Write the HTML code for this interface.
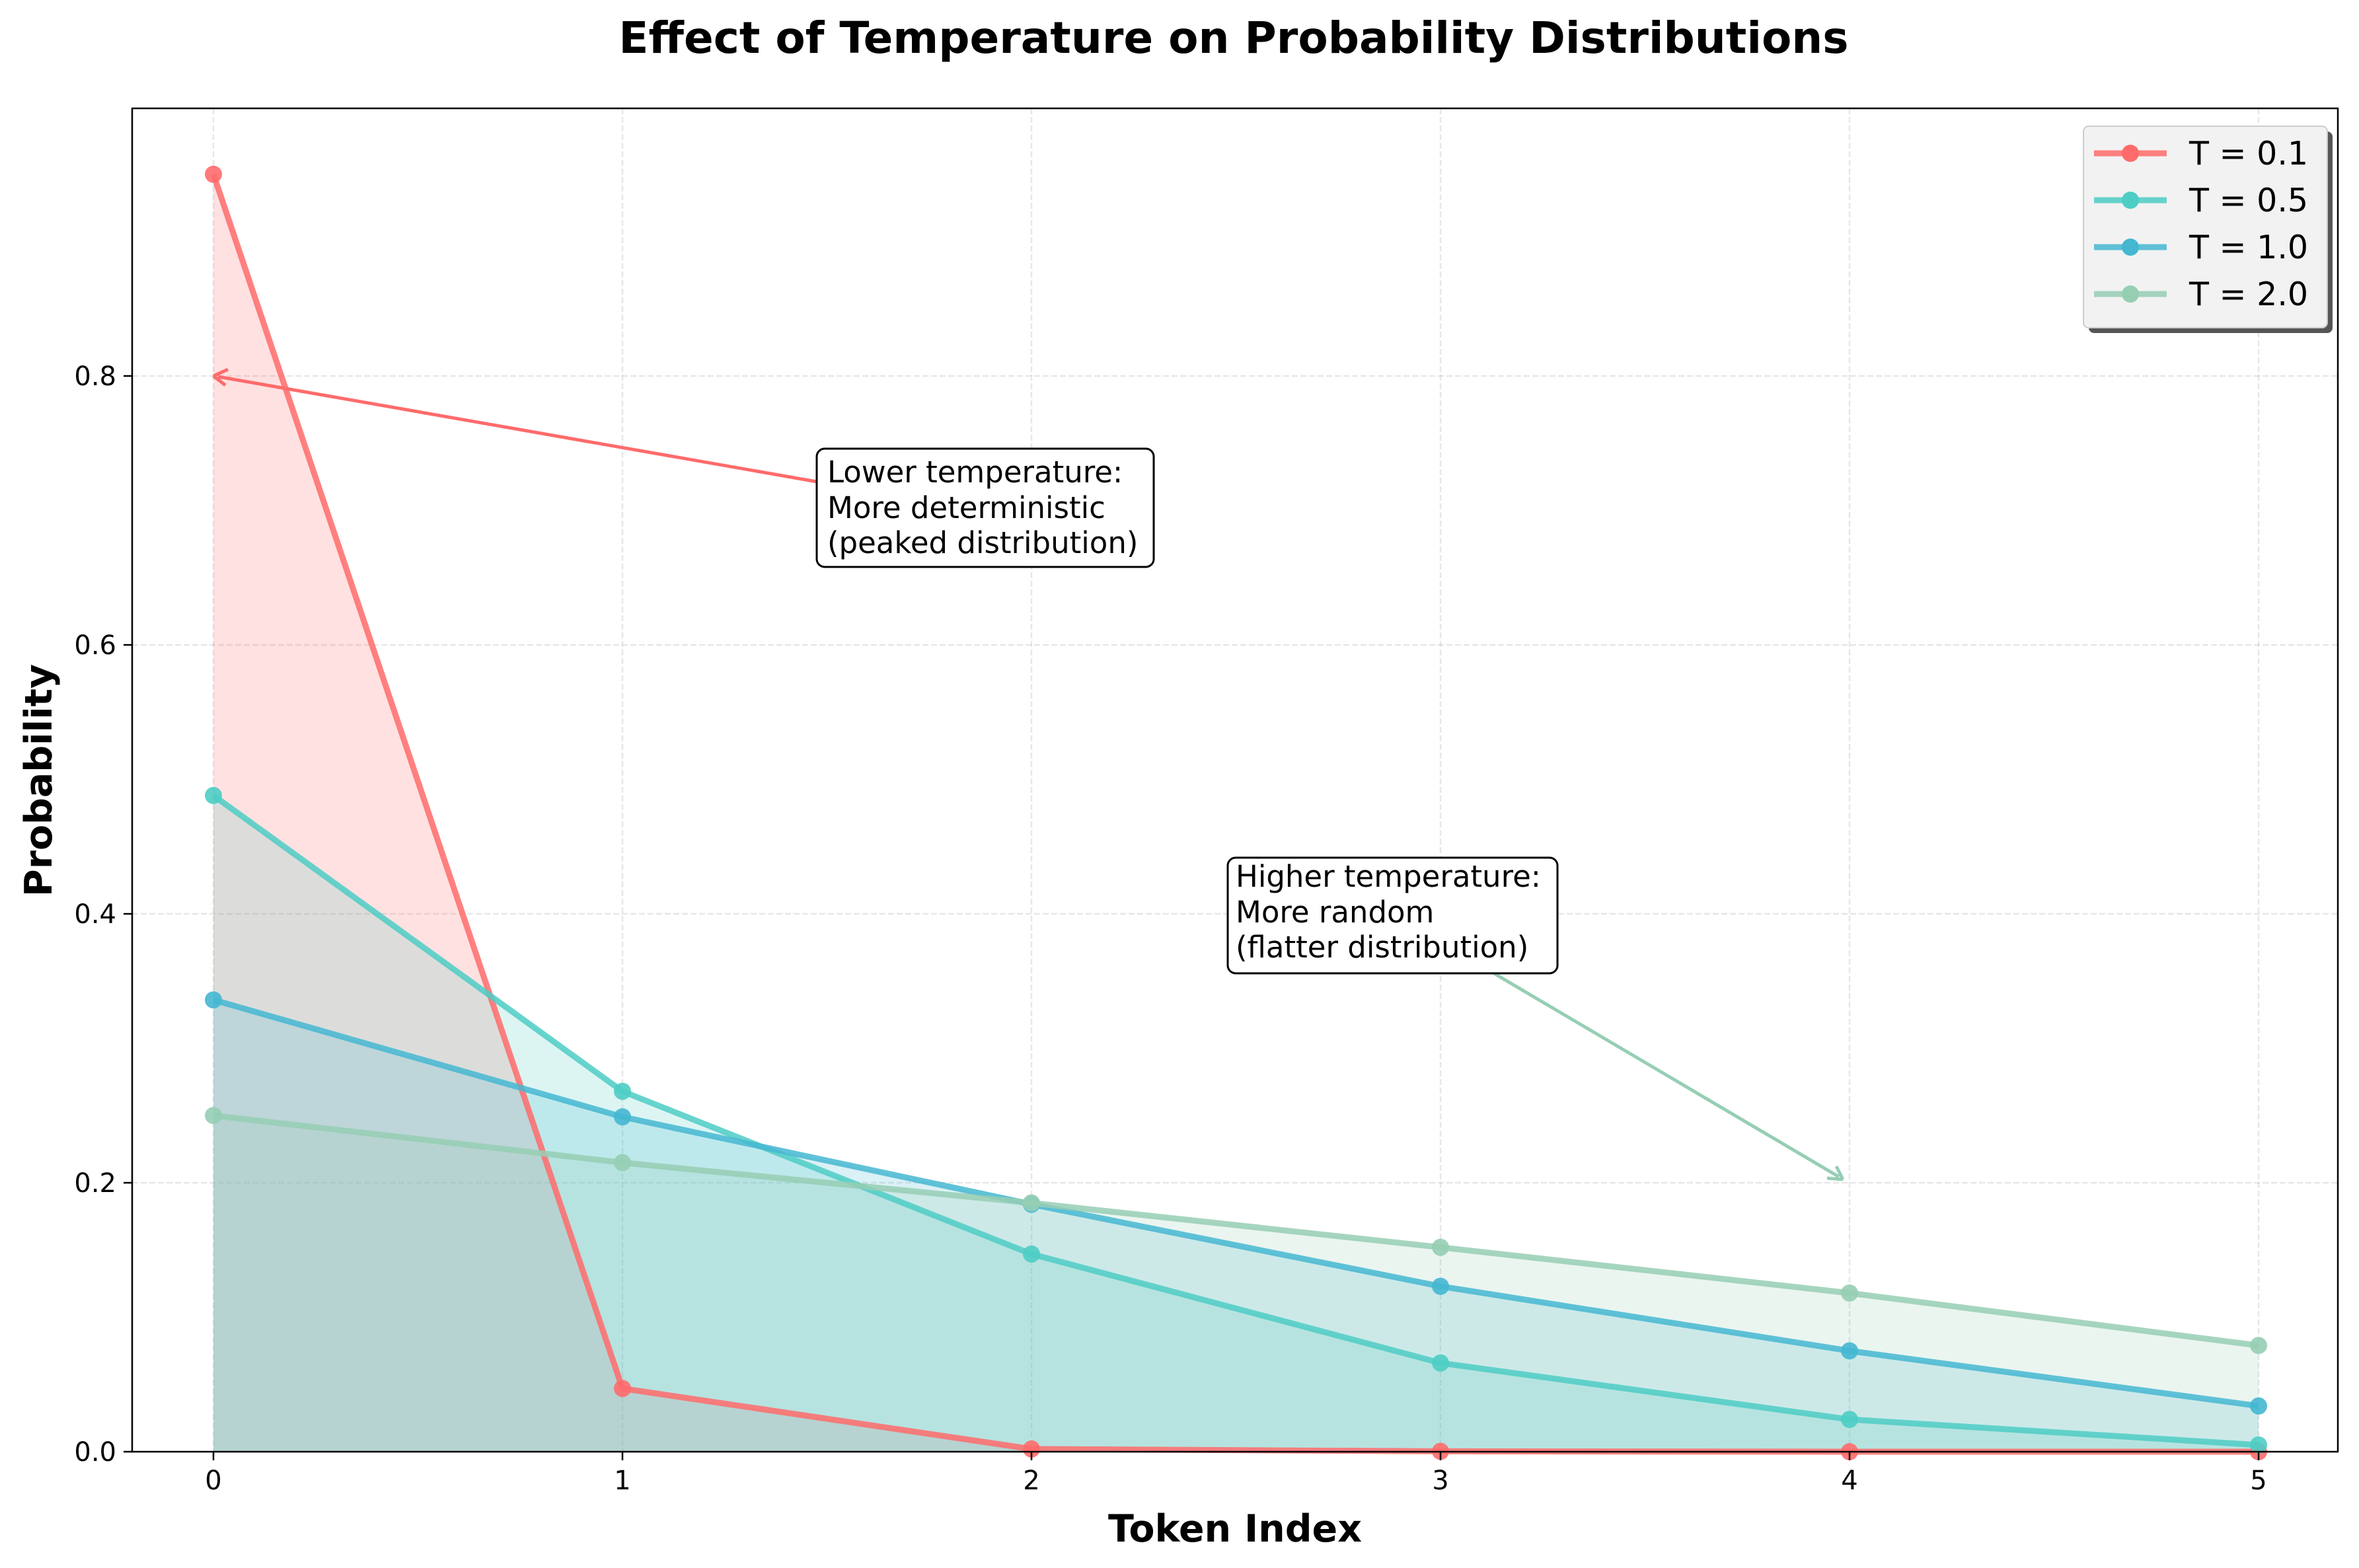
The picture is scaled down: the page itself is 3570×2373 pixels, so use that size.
<!DOCTYPE html>
<html><head><meta charset="utf-8">
<style>
html,body{margin:0;padding:0;background:#fff;}
svg{display:block;font-family:"DejaVu Sans","Liberation Sans",sans-serif;}
</style></head>
<body>
<svg id="chart" width="3570" height="2373" viewBox="0 0 3570 2373" xmlns="http://www.w3.org/2000/svg">
<rect width="3570" height="2373" fill="#fff"/>
<text x="1867" y="80" text-anchor="middle" font-size="66" font-weight="bold">Effect of Temperature on Probability Distributions</text>
<g id="grid"></g>
<g id="fills"></g>
<g id="lines"></g>
<g id="ticks"></g>
<rect x="200" y="164" width="3338" height="2033" fill="none" stroke="#000" stroke-width="2.5"/>
<text x="1869" y="2333" text-anchor="middle" font-size="57" font-weight="bold">Token Index</text>
<text transform="translate(78,1181) rotate(-90)" text-anchor="middle" font-size="57" font-weight="bold">Probability</text>
<g>
<line x1="1236" y1="729" x2="330" y2="570" stroke="#FF6B6B" stroke-width="5"/>
<path d="M323 569 l22 -10 M323 569 l18 14" stroke="#FF6B6B" stroke-width="5" fill="none"/>
<rect x="1236" y="679" width="510" height="179" rx="12" fill="#fff" stroke="#000" stroke-width="3"/>
<text x="1252" y="730" font-size="45">Lower temperature:</text>
<text x="1252" y="784" font-size="45">More deterministic</text>
<text x="1252" y="837" font-size="45">(peaked distribution)</text>
</g>
<g>
<line x1="2254" y1="1469" x2="2783" y2="1781" stroke="#96CEB4" stroke-width="5"/>
<path d="M2789 1785 l-24 -2 M2789 1785 l-10 -20" stroke="#96CEB4" stroke-width="5" fill="none"/>
<rect x="1858" y="1298" width="499" height="175" rx="12" fill="#fff" stroke="#000" stroke-width="3"/>
<text x="1870" y="1342" font-size="45">Higher temperature:</text>
<text x="1870" y="1396" font-size="45">More random</text>
<text x="1870" y="1449" font-size="45">(flatter distribution)</text>
</g>
<g id="legend">
<rect x="3161" y="199" width="369" height="305" rx="8" fill="#555"/>
<rect x="3153" y="191" width="369" height="305" rx="8" fill="#f2f2f2" stroke="#ccc" stroke-width="2"/>
</g>
</svg>
<script>
const categories=[0,1,2,3,4,5];
const seriesNames=["T = 0.1","T = 0.5","T = 1.0","T = 2.0"];
const colors=["#FF6B6B","#4ECDC4","#45B7D1","#96CEB4"];
const t01=[0.950,0.047,0.002,0.0003,0.0000,0.0000];
const t05=[0.488,0.268,0.147,0.066,0.024,0.005];
const t10=[0.336,0.249,0.184,0.123,0.075,0.034];
const t20=[0.250,0.215,0.185,0.152,0.118,0.079];
const series=[t01,t05,t10,t20];
const xTicks=[0,1,2,3,4,5];
const yTicks=[0,0.2,0.4,0.6,0.8];
const NS="http://www.w3.org/2000/svg";
const X=v=>323+v*619;
const Y=v=>2197-v*2035;
function mk(tag,attrs,parent){const e=document.createElementNS(NS,tag);for(const k in attrs)e.setAttribute(k,attrs[k]);parent.appendChild(e);return e;}
const grid=document.getElementById('grid'),ticks=document.getElementById('ticks'),fills=document.getElementById('fills'),lines=document.getElementById('lines'),legend=document.getElementById('legend');
xTicks.forEach(t=>{
 const g=mk('line',{x1:X(t),x2:X(t),y1:164,y2:2197,stroke:'#b0b0b0','stroke-opacity':0.3,'stroke-width':2.5,'stroke-dasharray':'9,4'},grid);
 
 mk('line',{x1:X(t),x2:X(t),y1:2197,y2:2210,stroke:'#000','stroke-width':2.5},ticks);
 const tx=mk('text',{x:X(t),y:2254,'text-anchor':'middle','font-size':40},ticks);tx.textContent=t;
 
});
yTicks.forEach(t=>{
 const g=mk('line',{x1:200,x2:3538,y1:Y(t),y2:Y(t),stroke:'#b0b0b0','stroke-opacity':0.3,'stroke-width':2.5,'stroke-dasharray':'9,4'},grid);
 
 mk('line',{x1:187,x2:200,y1:Y(t),y2:Y(t),stroke:'#000','stroke-width':2.5},ticks);
 const tx=mk('text',{x:176,y:Y(t)+14,'text-anchor':'end','font-size':40},ticks);tx.textContent=t.toFixed(1);
 
});
series.forEach((s,i)=>{
 const pts=categories.map((c,j)=>X(c)+','+Y(s[j])).join(' ');
 const f=mk('polygon',{points:X(categories[0])+','+Y(0)+' '+pts+' '+X(categories[categories.length-1])+','+Y(0),fill:colors[i],'fill-opacity':0.2},fills);
 
 const l=mk('polyline',{points:pts,fill:'none',stroke:colors[i],'stroke-opacity':0.85,'stroke-width':9,'stroke-linejoin':'round'},lines);
 
 categories.forEach((c,j)=>{
  const m=mk('circle',{cx:X(c),cy:Y(s[j]),r:13,fill:colors[i],'fill-opacity':0.9},lines);
  
 });
 const ly=232+i*71;
 const ll=mk('line',{x1:3169,x2:3279,y1:ly,y2:ly,stroke:colors[i],'stroke-opacity':0.85,'stroke-width':9},legend);
 
 mk('circle',{cx:3224,cy:ly,r:13,fill:colors[i]},legend);
 const lt=mk('text',{x:3313,y:ly+17,'font-size':49},legend);lt.textContent=seriesNames[i];
 
});
</script>
</body></html>
